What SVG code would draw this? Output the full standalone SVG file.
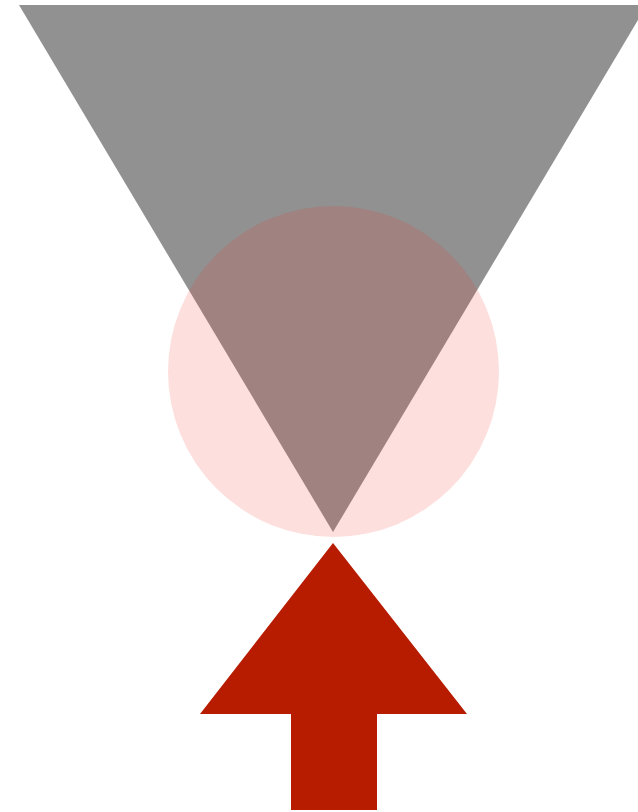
<svg xmlns="http://www.w3.org/2000/svg" width="638" height="812" viewBox="0 0 638 812">
<style>
.cone{fill:#919191}
.halo{fill:#f4372a;fill-opacity:0.155}
.arrow{fill:#b71c00}
</style>
<rect width="638" height="812" fill="#fff"/>
<g id="cone"><polygon class="cone" points="19,5 647,5 333,532"/></g>
<g id="halo"><circle class="halo" cx="333.5" cy="371.5" r="165.5"/></g>
<g id="arrow"><polygon class="arrow" points="333,543 467,714 377,714 377,810 291,810 291,714 200,714"/></g>
</svg>
